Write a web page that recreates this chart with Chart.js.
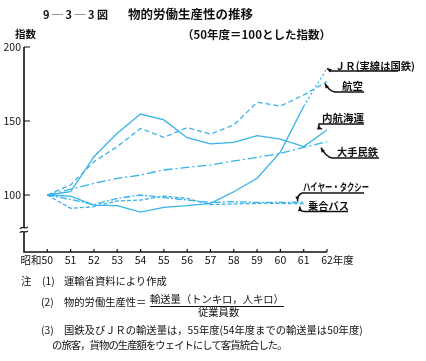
<!DOCTYPE html>
<html>
<head>
<meta charset="utf-8">
<script src="https://cdn.jsdelivr.net/npm/chart.js@4"></script>
<style>
  body { margin: 0; background: #fff; }
  #wrap { position: relative; width: 426px; height: 361px; font-family: "Noto Sans CJK JP", sans-serif; color: #111; }
  canvas { position: absolute; left: 0; top: 0; }
  .t { position: absolute; white-space: pre; line-height: 1; }
  .b { font-weight: bold; }
  .n { font-size: 10.3px; }
</style>
</head>
<body>
<div id="wrap">
  <canvas id="chart" width="426" height="361"></canvas>

  <div class="t b" style="left:43px;top:9px;font-size:11px">9 ─ 3 ─ 3 図</div>
  <div class="t b" style="left:128px;top:8px;font-size:12.5px">物的労働生産性の推移</div>
  <div class="t b" style="left:15px;top:29px;font-size:10.5px">指数</div>
  <div class="t b" style="left:182px;top:29px;font-size:11.5px">（50年度＝100とした指数）</div>

  <div class="t n" style="left:21px;top:276px">注</div>
  <div class="t n" style="left:42px;top:276px">(1)</div>
  <div class="t n" style="left:64px;top:276px">運輸省資料により作成</div>

  <div class="t n" style="left:41px;top:297px">(2)</div>
  <div class="t n" style="left:64px;top:297px">物的労働生産性＝</div>
  <div class="t n" style="left:150px;top:294px;border-bottom:1px solid #111;padding-bottom:2px">輸送量（トンキロ，人キロ）</div>
  <div class="t n" style="left:198px;top:307px">従業員数</div>

  <div class="t n" style="left:41px;top:325px">(3)</div>
  <div class="t n" style="left:64px;top:325px">国鉄及びＪＲの輸送量は，55年度(54年度までの輸送量は50年度)</div>
  <div class="t n" style="left:52px;top:340px;letter-spacing:-0.9px">の旅客，貨物の生産額をウェイトにして客貨統合した。</div>
</div>

<script>
// 年度 (昭和)
const years = [50, 51, 52, 53, 54, 55, 56, 57, 58, 59, 60, 61, 62];

// 指数 (50年度 = 100)
const jrValues       = [100, 99.3, 93.2, 92.8, 88.5, 91.7, 92.8, 94.4, 102.2, 111.3, 129, 160, 185.6];
const koukuValues    = [100, 106.8, 122.5, 132.7, 145, 139, 145.5, 141.2, 147.3, 162.6, 160.1, 167.6, 176.6];
const naikouValues   = [100, 102.2, 125.9, 141.7, 154.7, 150.7, 138.7, 134.5, 135.6, 140.1, 137.8, 132.7, 143.9];
const mintetsuValues = [100, 103.9, 107.9, 111.2, 113.5, 116.9, 118.7, 120.3, 123, 125.4, 128.1, 132.2, 136];
const taxiValues     = [100, 97, 93.5, 97.7, 100, 98.3, 96.6, 95, 95.5, 95, 95, 95.2, null];
const busValues      = [100, 91, 92.1, 96, 96.6, 99.3, 97.7, 93.5, 94, 94.3, 94.3, 94.2, null];

const yTicks = [100, 150, 200];
const seriesNames = ['ＪＲ(実線は国鉄)', '航空', '内航海運', '大手民鉄', 'ハイヤー・タクシー', '乗合バス'];

const lineColor = '#38b2ea';
const font = '"Noto Sans CJK JP", sans-serif';

function pts(values) {
  return years.map((yr, i) => ({ x: yr, y: values[i] }));
}

// where each series name sits, and how its arrow leaves the underline
const labelLayout = [
  { tx: 335, ty: 66,  w: 80, ul: [329, 398, 71],   tip: [0, 0],  ctrl: [331, 71] },
  { tx: 342, ty: 86,  w: 22, ul: [335, 364, 92],   tip: [-2, 2], ctrl: [329, 91] },
  { tx: 322, ty: 118, w: 42, ul: [319, 364, 124],  tip: [-5, -1], ctrl: [318, 128] },
  { tx: 337, ty: 152, w: 41, ul: [332, 379, 158],  tip: [-6, 6], ctrl: [326, 157] },
  { tx: 303, ty: 187, w: 66, ul: [302, 364, 193],  tip: [-6, -1], ctrl: [297, 195] },
  { tx: 308, ty: 206, w: 41, ul: [305, 348, 211.5], tip: [-4, 3], ctrl: [300, 212] }
];

const axisPlugin = {
  id: 'axisPlugin',
  afterDraw(chart) {
    const { ctx, chartArea: a, scales: { x, y } } = chart;
    ctx.save();

    // axes
    ctx.strokeStyle = '#111';
    ctx.lineWidth = 1.6;
    ctx.beginPath();
    ctx.moveTo(a.left, a.top);
    ctx.lineTo(a.left, a.bottom);
    ctx.lineTo(a.right, a.bottom);
    ctx.stroke();

    ctx.lineWidth = 1.2;
    ctx.beginPath();
    yTicks.forEach(v => {
      const py = y.getPixelForValue(v);
      ctx.moveTo(a.left, py);
      ctx.lineTo(a.left + 6, py);
    });
    years.forEach(v => {
      const px = x.getPixelForValue(v);
      ctx.moveTo(px, a.bottom);
      ctx.lineTo(px, a.bottom - 3);
    });
    ctx.stroke();

    // axis break
    const by = y.getPixelForValue(76.5);
    ctx.fillStyle = '#fff';
    ctx.fillRect(a.left - 2, by - 2, 4, 4);
    ctx.lineWidth = 1.1;
    ctx.beginPath();
    [-2, 2].forEach(o => {
      ctx.moveTo(a.left - 4, by + o + 1);
      ctx.bezierCurveTo(a.left - 2, by + o - 2, a.left + 1, by + o + 2, a.left + 4, by + o - 1);
    });
    ctx.stroke();

    // tick labels
    ctx.fillStyle = '#111';
    ctx.font = '10.5px ' + font;
    ctx.textBaseline = 'middle';
    ctx.textAlign = 'right';
    yTicks.forEach(v => ctx.fillText(String(v), a.left - 3, y.getPixelForValue(v)));

    const ly = a.bottom + 8;
    years.forEach((v, i) => {
      const px = x.getPixelForValue(v);
      const s = String(v);
      const w = ctx.measureText(s).width;
      ctx.textAlign = 'center';
      ctx.fillText(s, px, ly);
      if (i === 0) {
        ctx.textAlign = 'right';
        ctx.fillText('昭和', px - w / 2, ly);
      }
      if (i === years.length - 1) {
        ctx.textAlign = 'left';
        ctx.fillText('年度', px + w / 2, ly);
      }
    });

    // series names with underline and arrow
    ctx.font = 'bold 10.5px ' + font;
    ctx.textAlign = 'left';
    labelLayout.forEach((l, i) => {
      const meta = chart.getDatasetMeta(i);
      const els = meta.data.filter(p => !p.skip);
      const end = els[els.length - 1];
      const tx = end.x + l.tip[0], ty = end.y + l.tip[1];

      const mw = ctx.measureText(seriesNames[i]).width;
      ctx.save();
      ctx.translate(l.tx, l.ty);
      if (mw > l.w) ctx.scale(l.w / mw, 1);
      ctx.fillText(seriesNames[i], 0, 0);
      ctx.restore();

      ctx.lineWidth = 1.5;
      ctx.beginPath();
      ctx.moveTo(l.ul[1], l.ul[2]);
      ctx.lineTo(l.ul[0], l.ul[2]);
      ctx.quadraticCurveTo(l.ctrl[0], l.ctrl[1], tx, ty);
      ctx.stroke();

      const ang = Math.atan2(ty - l.ctrl[1], tx - l.ctrl[0]);
      ctx.beginPath();
      ctx.moveTo(tx, ty);
      ctx.lineTo(tx - 5 * Math.cos(ang - 0.4), ty - 5 * Math.sin(ang - 0.4));
      ctx.lineTo(tx - 5 * Math.cos(ang + 0.4), ty - 5 * Math.sin(ang + 0.4));
      ctx.closePath();
      ctx.fill();
    });

    ctx.restore();
  }
};

const ctx = document.getElementById('chart').getContext('2d');

new Chart(ctx, {
  type: 'line',
  data: {
    datasets: [
      {
        label: seriesNames[0],
        data: pts(jrValues),
        // 61→62 is JR (dotted); before that 国鉄 (solid)
        segment: { borderDash: c => c.p0.parsed.x >= 61 ? [2, 2.5] : undefined }
      },
      { label: seriesNames[1], data: pts(koukuValues), borderDash: [5, 3] },
      { label: seriesNames[2], data: pts(naikouValues) },
      { label: seriesNames[3], data: pts(mintetsuValues), borderDash: [9, 3, 2, 3] },
      { label: seriesNames[4], data: pts(taxiValues), borderDash: [7, 2, 2, 2] },
      { label: seriesNames[5], data: pts(busValues), borderDash: [4, 2] }
    ]
  },
  options: {
    responsive: false,
    animation: false,
    layout: { padding: { left: 24, top: 47, right: 99, bottom: 109 } },
    scales: {
      x: { type: 'linear', min: 49, max: 62, display: false },
      y: { min: 61.5, max: 200, display: false }
    },
    elements: {
      point: { radius: 0 },
      line: { borderWidth: 1.3, tension: 0, borderColor: lineColor, fill: false }
    },
    plugins: {
      legend: { display: false },
      tooltip: { enabled: false }
    }
  },
  plugins: [axisPlugin]
});
</script>
</body>
</html>
